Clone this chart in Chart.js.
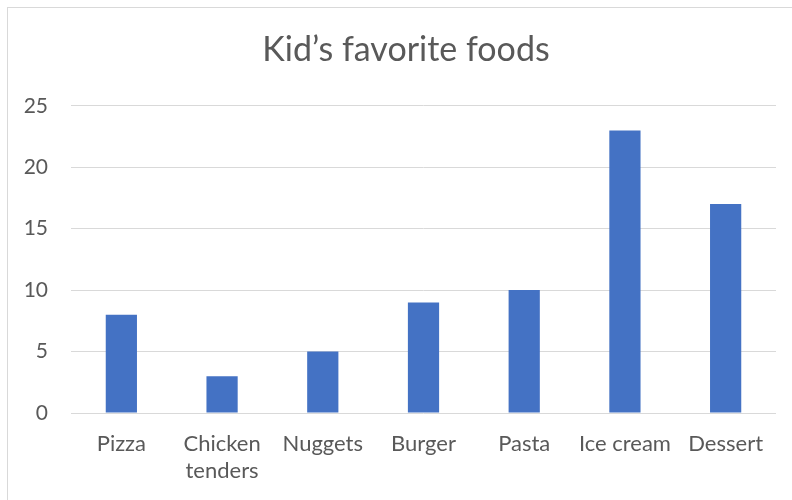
<!DOCTYPE html>
<html>
<head>
<meta charset="utf-8">
<script src="https://cdn.jsdelivr.net/npm/chart.js@4"></script>
<style>
html,body{margin:0;padding:0;background:#fff;}
#frame{position:absolute;left:7px;top:7px;width:820px;height:520px;border:1px solid #d9d9d9;box-sizing:border-box;}
#wrap{position:absolute;left:0;top:0;width:792px;height:500px;}
</style>
</head>
<body>
<div id="frame"></div>
<div id="wrap"><canvas id="c" width="792" height="500"></canvas></div>
<script>
const categories = [["Pizza"], ["Chicken", "tenders"], ["Nuggets"], ["Burger"], ["Pasta"], ["Ice cream"], ["Dessert"]];
const values = [8, 3, 5, 9, 10, 23, 17];
const yTicks = [0, 5, 10, 15, 20, 25];
const titleText = "Kid\u2019s favorite foods";

const FONT = "Lato, 'Open Sans', sans-serif";
const shiftTitle = {
  id: 'shiftTitle',
  afterLayout(chart) {
    const t = chart.titleBlock;
    if (t) { t.left += 18; t.right += 18; }
  }
};
new Chart(document.getElementById('c'), {
  type: 'bar',
  data: {
    labels: categories,
    datasets: [{
      data: values,
      backgroundColor: '#4472C4',
      borderWidth: 0,
      categoryPercentage: 1,
      barPercentage: 0.31
    }]
  },
  plugins: [shiftTitle],
  options: {
    responsive: false,
    animation: false,
    devicePixelRatio: 1,
    layout: { padding: { left: 0, right: 16, top: 0, bottom: 0 } },
    plugins: {
      legend: { display: false },
      tooltip: { enabled: false },
      title: {
        display: true,
        text: titleText,
        color: '#595959',
        font: { family: FONT, size: 34, weight: 'normal' },
        padding: { top: 30, bottom: 35 }
      }
    },
    scales: {
      x: {
        grid: { display: false },
        border: { display: false },
        ticks: {
          color: '#595959',
          font: { family: FONT, size: 22 },
          padding: 10,
          maxRotation: 0,
          autoSkip: false
        },
        afterFit: s => { s.height = 87; }
      },
      y: {
        min: 0,
        max: 25,
        afterBuildTicks: s => { s.ticks = yTicks.map(v => ({ value: v })); },
        grid: { color: '#d9d9d9', lineWidth: 1, drawTicks: false },
        border: { display: false },
        ticks: {
          color: '#595959',
          font: { family: FONT, size: 21 },
          padding: 23
        },
        afterFit: s => { s.width = 71; }
      }
    }
  }
});
</script>
</body>
</html>
